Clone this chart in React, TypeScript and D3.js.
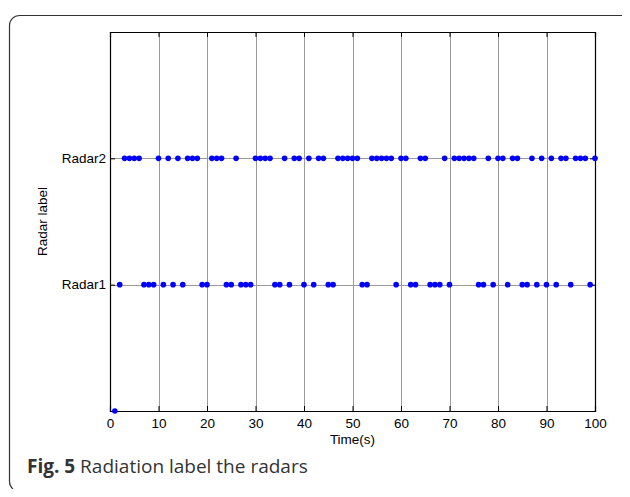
import { useRef, useEffect } from 'react';
import * as d3 from 'd3';

// time (s) at which each radar was detected
const radar1Times = [2, 7, 8, 9, 11, 13, 15, 19, 20, 24, 25, 27, 28, 29, 34, 35, 37, 40, 42, 45, 46, 52, 53, 59, 62, 63, 66, 67, 68, 70, 76, 77, 79, 82, 85, 86, 88, 90, 92, 95, 99];
const radar2Times = [3, 4, 5, 6, 10, 12, 14, 16, 17, 18, 21, 22, 23, 26, 30, 31, 32, 33, 36, 38, 39, 41, 43, 44, 47, 48, 49, 50, 51, 54, 55, 56, 57, 58, 60, 61, 64, 65, 69, 71, 72, 73, 74, 75, 78, 80, 81, 83, 84, 87, 89, 91, 93, 94, 96, 97, 98, 100];
// stray point at label 0
const unlabeledTimes = [1];

const xTicks = [0, 10, 20, 30, 40, 50, 60, 70, 80, 90, 100];
const yTicks = [1, 2];
const yTickLabels = ['Radar1', 'Radar2'];

const App = () => {
  const svgRef = useRef(null);
  const width = 630;
  const height = 497;

  useEffect(() => {
    const svg = d3.select(svgRef.current);
    svg.selectAll("*").remove();

    const margin = { top: 32, right: 35, bottom: 86, left: 110 };
    const innerWidth = width - margin.left - margin.right;
    const innerHeight = height - margin.top - margin.bottom;

    // outer figure frame
    svg.append("rect")
      .attr("x", 9.5)
      .attr("y", 15.5)
      .attr("width", 640)
      .attr("height", 476)
      .attr("rx", 10)
      .attr("fill", "none")
      .attr("stroke", "#333")
      .attr("stroke-width", 1.2);

    const g = svg.append("g")
      .attr("transform", `translate(${margin.left},${margin.top})`);

    const xScale = d3.scaleLinear().domain([0, 100]).range([0, innerWidth]);
    const yScale = d3.scaleLinear().domain([0, 3]).range([innerHeight, 0]);

    // grid lines
    g.selectAll(".xgrid")
      .data(xTicks.slice(1, -1))
      .enter()
      .append("line")
      .attr("x1", d => Math.round(xScale(d)) + 0.5)
      .attr("x2", d => Math.round(xScale(d)) + 0.5)
      .attr("y1", 0)
      .attr("y2", innerHeight)
      .attr("stroke", "#9a9a9a")
      .attr("stroke-width", 1);

    g.selectAll(".ygrid")
      .data(yTicks)
      .enter()
      .append("line")
      .attr("x1", 0)
      .attr("x2", innerWidth)
      .attr("y1", d => Math.round(yScale(d)) + 0.5)
      .attr("y2", d => Math.round(yScale(d)) + 0.5)
      .attr("stroke", "#9a9a9a")
      .attr("stroke-width", 1);

    // axes with inward ticks, mirrored on top and right
    const fontFamily = "'Liberation Sans', Arial, sans-serif";
    const xAxis = d3.axisBottom(xScale).tickValues(xTicks).tickSize(-5).tickPadding(7);
    const xAxisTop = d3.axisTop(xScale).tickValues(xTicks).tickSize(-5).tickFormat(() => "");
    const yAxis = d3.axisLeft(yScale).tickValues(yTicks).tickSize(-5).tickPadding(4)
      .tickFormat((d, i) => yTickLabels[i]);
    const yAxisRight = d3.axisRight(yScale).tickValues(yTicks).tickSize(-5).tickFormat(() => "");

    const styleAxis = (sel) => {
      sel.select(".domain").attr("stroke", "#000").attr("stroke-width", 1.2);
      sel.selectAll(".tick line").attr("stroke", "#000");
      sel.selectAll(".tick text")
        .attr("fill", "#000")
        .attr("font-size", "13.5px")
        .attr("font-family", fontFamily);
    };

    g.append("g").attr("transform", `translate(0,${innerHeight})`).call(xAxis).call(styleAxis);
    g.append("g").call(xAxisTop).call(styleAxis);
    g.append("g").call(yAxis).call(styleAxis);
    g.append("g").attr("transform", `translate(${innerWidth},0)`).call(yAxisRight).call(styleAxis);

    // data points
    const points = [
      ...unlabeledTimes.map(t => ({ t, label: 0 })),
      ...radar1Times.map(t => ({ t, label: 1 })),
      ...radar2Times.map(t => ({ t, label: 2 })),
    ];
    g.selectAll(".pt")
      .data(points)
      .enter()
      .append("circle")
      .attr("cx", d => xScale(d.t))
      .attr("cy", d => yScale(d.label))
      .attr("r", 2.8)
      .attr("fill", "#0000ff");

    // axis labels
    g.append("text")
      .attr("text-anchor", "middle")
      .attr("x", innerWidth / 2)
      .attr("y", innerHeight + 33)
      .attr("font-size", "13.5px")
      .attr("font-family", fontFamily)
      .text("Time(s)");

    g.append("text")
      .attr("text-anchor", "middle")
      .attr("transform", "rotate(-90)")
      .attr("x", -innerHeight / 2)
      .attr("y", -63)
      .attr("font-size", "13.5px")
      .attr("font-family", fontFamily)
      .text("Radar label");

    // caption
    const caption = svg.append("text")
      .attr("x", 27)
      .attr("y", 473)
      .attr("font-size", "19px")
      .attr("font-family", "'Open Sans', 'Noto Sans', sans-serif")
      .attr("fill", "#333");
    caption.append("tspan").attr("font-weight", "bold").text("Fig. 5");
    caption.append("tspan").text(" Radiation label the radars");
  }, []);

  return (
    <div style={{ margin: -8 }}>
      <svg ref={svgRef} width={width} height={height} style={{ display: 'block' }}></svg>
    </div>
  );
};

export default App;
